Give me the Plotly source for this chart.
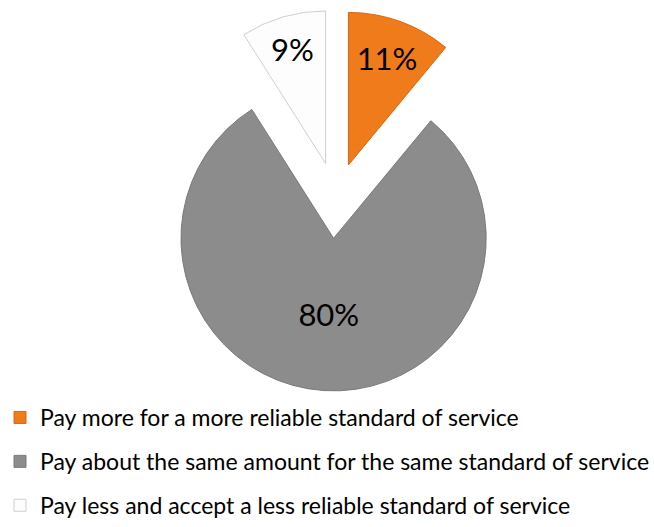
import plotly.graph_objects as go

# Survey answers and their shares (%)
labels = [
    "Pay more for a more reliable standard of service",
    "Pay about the same amount for the same standard of service",
    "Pay less and accept a less reliable standard of service",
]
shares = [11, 80, 9]

slice_colors = ["#EF7B1A", "#8C8C8C", "#FDFDFD"]
edge_colors = ["#D8680F", "#7A7A7A", "#CFCFCF"]
pulls = [0.24, 0.255, 0.245]

FONT = "Lato, 'Open Sans', sans-serif"

fig = go.Figure()

fig.add_trace(go.Pie(
    labels=labels,
    values=shares,
    sort=False,
    direction="clockwise",
    rotation=0,
    pull=pulls,
    marker=dict(colors=slice_colors, line=dict(color=edge_colors, width=1)),
    texttemplate="%{value}%",
    textposition="inside",
    insidetextorientation="horizontal",
    textfont=dict(family=FONT, size=31, color="#000000"),
    domain=dict(x=[0.2106, 0.8170], y=[0.2319, 0.9844]),
    showlegend=False,
    hoverinfo="label+percent",
))

# Legend entries, one per answer
for name, col, edge in zip(labels, slice_colors, edge_colors):
    fig.add_trace(go.Scatter(
        x=[None], y=[None],
        mode="markers",
        name=name,
        legendgroup=name,
        marker=dict(symbol="square", size=12, color=col, line=dict(color=edge, width=1)),
    ))

fig.update_layout(
    width=654,
    height=527,
    margin=dict(l=0, r=0, t=0, b=0),
    paper_bgcolor="white",
    plot_bgcolor="white",
    xaxis=dict(visible=False),
    yaxis=dict(visible=False),
    legend=dict(
        x=0, xanchor="left",
        y=0.222, yanchor="top",
        orientation="v",
        tracegroupgap=11,
        font=dict(family=FONT, size=23, color="#000000"),
        bgcolor="rgba(0,0,0,0)",
    ),
)

fig.write_html("out.html")
